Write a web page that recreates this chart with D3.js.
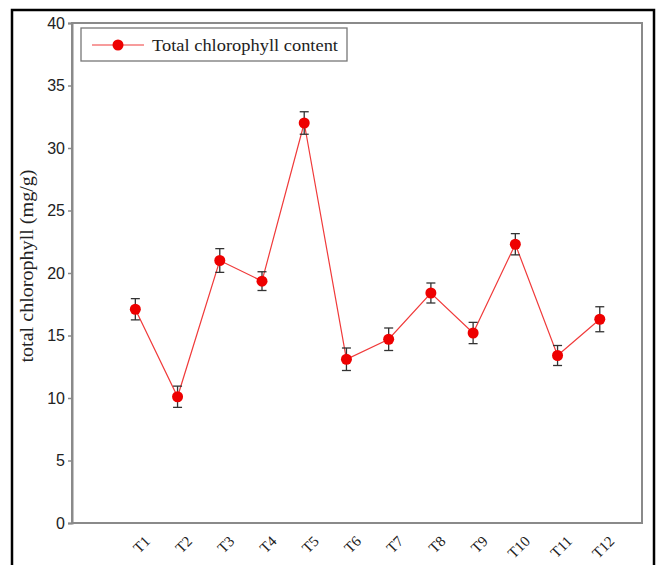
<!DOCTYPE html>
<html>
<head>
<meta charset="utf-8">
<script src="https://cdn.jsdelivr.net/npm/d3@7/dist/d3.min.js"></script>
<style>
  html, body { margin: 0; padding: 0; background: #fff; }
  svg { display: block; }
</style>
</head>
<body>
<script>
// Treatments and total chlorophyll content (mg/g) with error bars
const treatments = ["T1", "T2", "T3", "T4", "T5", "T6", "T7", "T8", "T9", "T10", "T11", "T12"];
const chlorophyll = [17.1, 10.1, 21.0, 19.35, 32.0, 13.1, 14.7, 18.4, 15.2, 22.3, 13.4, 16.3];
const errors = [0.85, 0.85, 0.95, 0.75, 0.9, 0.9, 0.9, 0.8, 0.85, 0.85, 0.8, 1.0];
const yTicks = [0, 5, 10, 15, 20, 25, 30, 35, 40];
const seriesName = "Total chlorophyll content";
const yTitle = "total chlorophyll (mg/g)";

const W = 660, H = 565;
const plot = { left: 72, right: 642, top: 23, bottom: 523 };

const svg = d3.select("body").append("svg").attr("width", W).attr("height", H);

// outer frame
svg.append("rect")
  .attr("x", 12).attr("y", 10).attr("width", 642).attr("height", 570)
  .attr("fill", "none").attr("stroke", "#000").attr("stroke-width", 2.5);

const x = d3.scaleLinear().domain([-0.5, 13]).range([plot.left, plot.right]);
const y = d3.scaleLinear().domain([0, 40]).range([plot.bottom, plot.top]);

const data = treatments.map((t, i) => ({ t, i: i + 1, v: chlorophyll[i], e: errors[i] }));

// plot box
svg.append("rect")
  .attr("x", plot.left).attr("y", plot.top)
  .attr("width", plot.right - plot.left).attr("height", plot.bottom - plot.top)
  .attr("fill", "none").attr("stroke", "#8a8a8a").attr("stroke-width", 2);

// y axis
const yAxis = svg.append("g")
  .attr("transform", `translate(${plot.left},0)`)
  .call(d3.axisLeft(y).tickValues(yTicks).tickSize(4).tickPadding(3));
yAxis.select(".domain").attr("stroke", "#8a8a8a").attr("stroke-width", 2);
yAxis.selectAll(".tick line").attr("stroke", "#8a8a8a").attr("stroke-width", 1.5);
yAxis.selectAll(".tick text")
  .attr("font-family", "Liberation Sans, Arial, sans-serif")
  .attr("font-size", 16).attr("fill", "#222");

// x axis labels (rotated)
const xAxis = svg.append("g")
  .attr("transform", `translate(0,${plot.bottom})`)
  .call(d3.axisBottom(x).tickValues(data.map(d => d.i)).tickFormat((d) => treatments[d - 1]).tickSize(0));
xAxis.select(".domain").remove();
xAxis.selectAll(".tick text")
  .attr("font-family", "Liberation Serif, Times New Roman, serif")
  .attr("font-size", 15).attr("fill", "#222")
  .attr("text-anchor", "end")
  .attr("dy", 0)
  .attr("transform", "translate(13,17) rotate(-45)");

// y axis title
svg.append("text")
  .attr("transform", `translate(33,266) rotate(-90)`)
  .attr("text-anchor", "middle")
  .attr("font-family", "Liberation Serif, Times New Roman, serif")
  .attr("font-size", 18).attr("fill", "#222")
  .attr("textLength", 193).attr("lengthAdjust", "spacingAndGlyphs")
  .text(yTitle);

// connecting line
svg.append("path")
  .datum(data)
  .attr("fill", "none").attr("stroke", "#f03a3a").attr("stroke-width", 1.2)
  .attr("d", d3.line().x(d => x(d.i)).y(d => y(d.v)));

// error bars
const eb = svg.append("g").attr("stroke", "#333").attr("stroke-width", 1.3);
eb.selectAll("line.v").data(data).join("line")
  .attr("x1", d => x(d.i)).attr("x2", d => x(d.i))
  .attr("y1", d => y(d.v - d.e)).attr("y2", d => y(d.v + d.e));
eb.selectAll("line.top").data(data).join("line")
  .attr("x1", d => x(d.i) - 4.5).attr("x2", d => x(d.i) + 4.5)
  .attr("y1", d => y(d.v + d.e)).attr("y2", d => y(d.v + d.e));
eb.selectAll("line.bot").data(data).join("line")
  .attr("x1", d => x(d.i) - 4.5).attr("x2", d => x(d.i) + 4.5)
  .attr("y1", d => y(d.v - d.e)).attr("y2", d => y(d.v - d.e));

// markers
svg.append("g").selectAll("circle").data(data).join("circle")
  .attr("cx", d => x(d.i)).attr("cy", d => y(d.v)).attr("r", 5.5)
  .attr("fill", "#ee0000");

// legend
const lg = svg.append("g");
lg.append("rect")
  .attr("x", 81).attr("y", 28).attr("width", 266).attr("height", 33)
  .attr("fill", "#fff").attr("stroke", "#777").attr("stroke-width", 1.3);
lg.append("line")
  .attr("x1", 92).attr("x2", 144).attr("y1", 45).attr("y2", 45)
  .attr("stroke", "#f03a3a").attr("stroke-width", 1.2);
lg.append("circle").attr("cx", 118).attr("cy", 45).attr("r", 5.5).attr("fill", "#ee0000");
lg.append("text")
  .attr("x", 152).attr("y", 51)
  .attr("font-family", "Liberation Serif, Times New Roman, serif")
  .attr("font-size", 17).attr("fill", "#222")
  .attr("textLength", 186).attr("lengthAdjust", "spacingAndGlyphs")
  .text(seriesName);
</script>
</body>
</html>
